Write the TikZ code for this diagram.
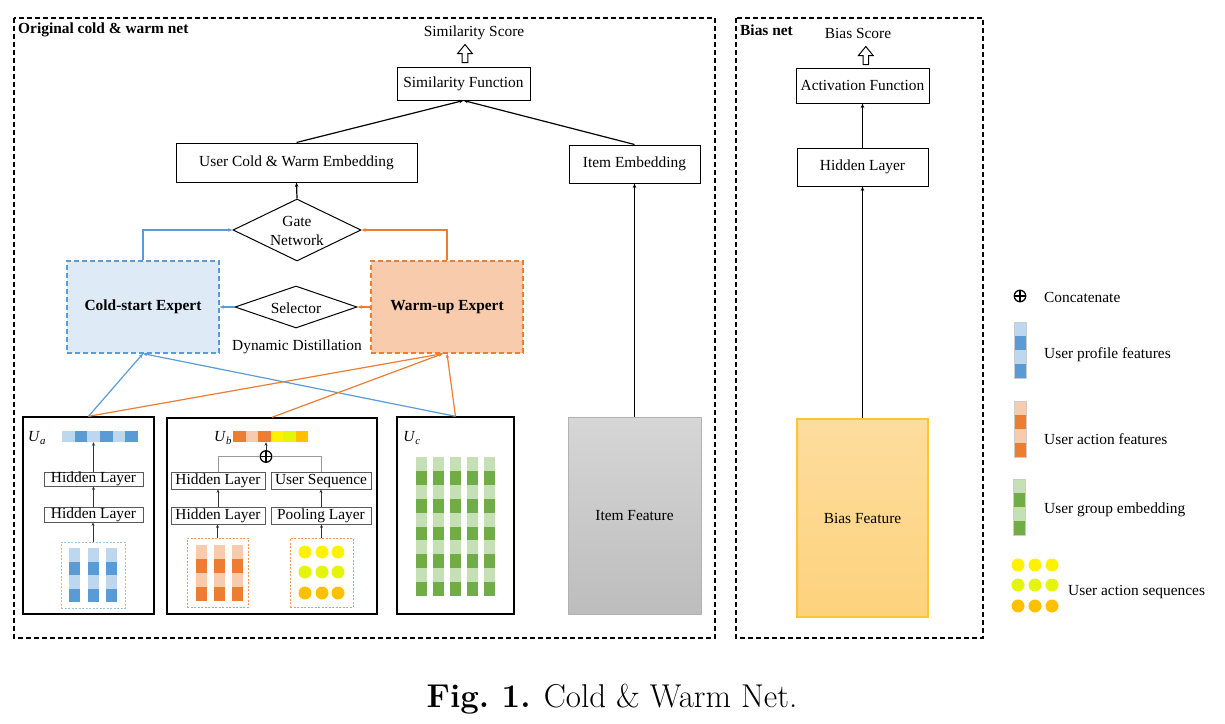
\documentclass[tikz,border=0pt]{standalone}
\usepackage{fontspec}
\newfontfamily\tnr{Liberation Serif}
\usetikzlibrary{shapes.geometric,arrows.meta,calc}
\definecolor{lblue}{HTML}{BDD7EE}
\definecolor{dblue}{HTML}{5B9BD5}
\definecolor{cfill}{HTML}{DEEBF7}
\definecolor{lorange}{HTML}{F8CBAD}
\definecolor{dorange}{HTML}{ED7D31}
\definecolor{lgreen}{HTML}{C5E0B4}
\definecolor{dgreen}{HTML}{70AD47}
\definecolor{yelA}{HTML}{FFF200}
\definecolor{yelB}{HTML}{E4F50A}
\definecolor{amber}{HTML}{FFC000}
\definecolor{gtop}{HTML}{D6D6D6}
\definecolor{gbot}{HTML}{BDBDBD}
\definecolor{btop}{HTML}{FDDD9E}
\definecolor{bbot}{HTML}{FDD27C}
\definecolor{bedge}{HTML}{FFC52E}
\tikzset{
  box/.style={draw, line width=1pt, inner sep=0, align=center},
  sbox/.style={draw=black!65, line width=0.8pt, inner sep=0, text height=10pt, text depth=3pt},
  ubox/.style={draw, line width=1.4pt, inner sep=0},
  tip/.style={-{Stealth[length=4.5pt,width=3.5pt]}},
  ftip/.style={-{Stealth[length=3.5pt,width=3pt]}, line width=0.6pt, black!80},
  frame/.style={draw, dash pattern=on 5pt off 3pt, line width=1.2pt},
  bline/.style={draw=dblue, line width=1.2pt},
  oline/.style={draw=dorange, line width=1.2pt},
  txt/.style={inner sep=0, align=center},
  hollow/.style={draw, line width=1pt, fill=white},
  oplus/.style={circle, draw, line width=1.3pt, minimum size=11.5pt, inner sep=0,
    path picture={\draw[line width=1.3pt] (path picture bounding box.north) -- (path picture bounding box.south)
      (path picture bounding box.west) -- (path picture bounding box.east);}},
}
\begin{document}
\begin{tikzpicture}[x=1pt, y=-1pt, font=\tnr\fontsize{15.4}{17.5}\selectfont]
\useasboundingbox (0,0) rectangle (1225,723);

% frames
\path[frame] (14,18) rectangle (715,638);
\path[frame] (736,18) rectangle (983,638);
\node[txt, anchor=west, font=\tnr\bfseries\fontsize{15.4}{17.5}\selectfont] (t1) at (18,30) {Original cold \& warm net};
\node[txt, anchor=west, font=\tnr\bfseries\fontsize{15.4}{17.5}\selectfont] (t2) at (740,30) {Bias net};

% top part
\node[txt] (sscore) at (474,33) {Similarity Score};
\node[box, minimum width=133, minimum height=33] (simf) at (463.5,83.5) {Similarity Function};
\node[box, minimum width=241, minimum height=39] (uemb) at (296.5,162.5) {User Cold \& Warm Embedding};
\node[box, minimum width=131, minimum height=38] (iemb) at (634.5,164) {Item Embedding};
\path[hollow] ($(simf.north)+(1.5,-4)$) -- ++(-2.8,0) -- ++(0,-9) -- ++(-4.5,0) -- ++(7.3,-9) -- ++(7.3,9) -- ++(-4.5,0) -- ++(0,9) -- cycle;

\node[diamond, draw, line width=1pt, minimum width=128, minimum height=62, inner sep=0] (gate) at (297,230) {};
\node[txt, font=\tnr\fontsize{15.4}{19}\selectfont] (gatet) at (297,231) {Gate\\Network};

\node[box, draw=dblue, fill=cfill, line width=1.2pt, dash pattern=on 5pt off 3pt, minimum width=152, minimum height=92, font=\tnr\bfseries\fontsize{15.4}{17.5}\selectfont] (cold) at (143,307) {Cold-start Expert};
\node[box, draw=dorange, fill=lorange, line width=1.2pt, dash pattern=on 5pt off 3pt, minimum width=152, minimum height=92, font=\tnr\bfseries\fontsize{15.4}{17.5}\selectfont] (warm) at (447,307) {Warm-up Expert};
\node[diamond, draw, line width=1pt, minimum width=122, minimum height=42, inner sep=0] (sel) at (296,307) {};
\node[txt] (selt) at (296,308) {Selector};
\node[txt] (dyn) at (297,347) {Dynamic Distillation};

% connectors top
\draw[tip, line width=1.2pt] (uemb.north) -- (simf.south);
\draw[tip, line width=1.2pt] (iemb.north) -- (simf.south);
\draw[tip, line width=1.2pt] (gate.north) -- (uemb.south);
\draw[tip, bline] (cold.north) |- (gate.west);
\draw[tip, oline] (warm.north) |- (gate.east);
\draw[tip, bline] (sel.west) -- (cold.east);
\draw[tip, oline] (warm.west) -- (sel.east);

% lower boxes
\node[ubox, minimum width=131, minimum height=197] (ua) at (88.5,515.5) {};
\node[ubox, minimum width=210, minimum height=196] (ub) at (272,516) {};
\node[ubox, minimum width=117, minimum height=197] (uc) at (455.5,515.5) {};
\node[box, draw=black!30, top color=gtop, bottom color=gbot, minimum width=133, minimum height=197] (ifeat) at (634.5,515.5) {Item Feature};

\draw[tip, bline] (ua.north) -- (cold.south);
\draw[tip, bline] (uc.north) -- (cold.south);
\draw[tip, oline] (ua.north) -- ($(warm.south)+(-4,0)$);
\draw[tip, oline] (ub.north) -- ($(warm.south)+(-4,0)$);
\draw[tip, oline] (uc.north) -- (warm.south);
\draw[tip, line width=1.2pt] (ifeat.north) -- (iemb.south);

% ---- Ua internals
\node[txt] (la) at (37,438) {\textit{U}\textsubscript{\textit{a}}};
\node[inner sep=0, minimum width=76, minimum height=11] (bara) at (100,436.5) {};
\foreach \i/\c in {0/lblue,1/dblue,2/lblue,3/dblue,4/lblue,5/dblue}
  \fill[\c] (62+\i*12.667,431) rectangle ++(12.667,11);
\node[sbox, minimum width=99, minimum height=14] (hla1) at (93.5,479) {Hidden Layer};
\node[sbox, minimum width=99, minimum height=15] (hla2) at (93.5,514.5) {Hidden Layer};
\node[draw=dblue!60, line width=0.6pt, dash pattern=on 2pt off 1.5pt, minimum width=64, minimum height=66, inner sep=0] (pa) at (93,575) {};
\foreach \x in {69,88,106}
  \foreach \j/\c in {0/lblue,1/dblue,2/lblue,3/dblue}
    \fill[\c] (\x,548+\j*13.5) rectangle ++(11,13.5);
\draw[ftip] (hla1.north) -- (hla1.north |- bara.south);
\draw[ftip] (hla2.north) -- (hla1.south);
\draw[ftip] (pa.north) -- (pa.north |- hla2.south);

% ---- Ub internals
\node[txt] (lb) at (223,438) {\textit{U}\textsubscript{\textit{b}}};
\node[inner sep=0, minimum width=75, minimum height=11] (barb) at (270.5,436.5) {};
\foreach \i/\c in {0/dorange,1/lorange,2/dorange,3/yelA,4/yelB,5/amber}
  \fill[\c] (233+\i*12.5,431) rectangle ++(12.5,11);
\node[oplus] (plus) at (266,456.5) {};
\node[sbox, minimum width=94, minimum height=17] (hlb1) at (218,480.5) {Hidden Layer};
\node[sbox, minimum width=100, minimum height=17] (useq) at (321,480.5) {User Sequence};
\node[sbox, minimum width=94, minimum height=17] (hlb2) at (218,515.5) {Hidden Layer};
\node[sbox, minimum width=100, minimum height=17] (pool) at (321,515.5) {Pooling Layer};
\node[draw=dorange!80, line width=0.6pt, dash pattern=on 2pt off 1.5pt, minimum width=61, minimum height=69, inner sep=0] (pb1) at (217.5,572.5) {};
\node[draw=dorange!80, line width=0.6pt, dash pattern=on 2pt off 1.5pt, minimum width=63, minimum height=69, inner sep=0] (pb2) at (321.5,572.5) {};
\foreach \x in {196,214,232}
  \foreach \j/\c in {0/lorange,1/dorange,2/lorange,3/dorange}
    \fill[\c] (\x,545+\j*14) rectangle ++(10.5,14);
\foreach \x in {305,322,338}
  \foreach \y/\c in {552/yelA,572/yelB,593/amber}
    \fill[\c] (\x,\y) circle (6.5pt);
\draw[black!40, line width=0.8pt] (hlb1.north) |- (plus.west);
\draw[black!40, line width=0.8pt] (useq.north) |- (plus.east);
\draw[ftip] (plus.north) -- (plus.north |- barb.south);
\draw[ftip] (hlb2.north) -- (hlb1.south);
\draw[ftip] (pool.north) -- (useq.south);
\draw[ftip] (pb1.north) -- (pb1.north |- hlb2.south);
\draw[ftip] (pb2.north) -- (pb2.north |- pool.south);

% ---- Uc internals
\node[txt] (lc) at (412,438) {\textit{U}\textsubscript{\textit{c}}};
\foreach \x in {416,433,450,467,484}
  \foreach \j in {0,...,9} {
    \pgfmathsetmacro{\cc}{ifthenelse(mod(\j,2)==0,"lgreen","dgreen")}
    \fill[\cc] (\x,457+\j*13.9) rectangle ++(11,13.9);
  }

% ---- Bias net
\node[txt] (bscore) at (858,33) {Bias Score};
\node[box, minimum width=133, minimum height=35] (act) at (862.5,85.5) {Activation Function};
\node[box, minimum width=131, minimum height=38] (hid) at (862.5,167) {Hidden Layer};
\node[box, draw=bedge, line width=1.2pt, top color=btop, bottom color=bbot, minimum width=131, minimum height=198] (bfeat) at (862.5,518) {Bias Feature};
\path[hollow] ($(act.north)+(3.3,-3)$) -- ++(-2.8,0) -- ++(0,-9) -- ++(-4.5,0) -- ++(7.3,-9) -- ++(7.3,9) -- ++(-4.5,0) -- ++(0,9) -- cycle;
\draw[tip, line width=1.2pt] (hid.north) -- (act.south);
\draw[tip, line width=1.2pt] (bfeat.north) -- (hid.south);

% ---- Legend
\node[oplus] (lgplus) at (1020,296) {};
\node[txt, anchor=west] (lg1) at (1044,297) {Concatenate};
\foreach \j/\c in {0/lblue,1/dblue,2/lblue,3/dblue}
  \fill[\c] (1014,322+\j*14) rectangle ++(12,14);
\draw[black!20, line width=0.4pt] (1014,322) rectangle (1026,378);
\node[txt, anchor=west] (lg2) at (1044,355) {User profile features};
\foreach \j/\c in {0/lorange,1/dorange,2/lorange,3/dorange}
  \fill[\c] (1014,401+\j*14) rectangle ++(12,14);
\draw[black!20, line width=0.4pt] (1014,401) rectangle (1026,457);
\node[txt, anchor=west] (lg3) at (1044,439) {User action features};
\foreach \j/\c in {0/lgreen,1/dgreen,2/lgreen,3/dgreen}
  \fill[\c] (1013,479+\j*14) rectangle ++(12,14);
\draw[black!20, line width=0.4pt] (1013,479) rectangle (1025,535);
\node[txt, anchor=west] (lg4) at (1044,510) {User group embedding};
\foreach \x in {1018,1035,1052}
  \foreach \y/\c in {565/yelA,585/yelB,606/amber}
    \fill[\c] (\x,\y) circle (6.5pt);
\node[txt, anchor=west] (lg5) at (1068,592) {User action sequences};

% caption
\node[txt, font=\rmfamily\fontsize{33}{38}\selectfont] (cap) at (612,699) {\textbf{Fig.\ 1.} Cold \& Warm Net.};
\end{tikzpicture}
\end{document}
